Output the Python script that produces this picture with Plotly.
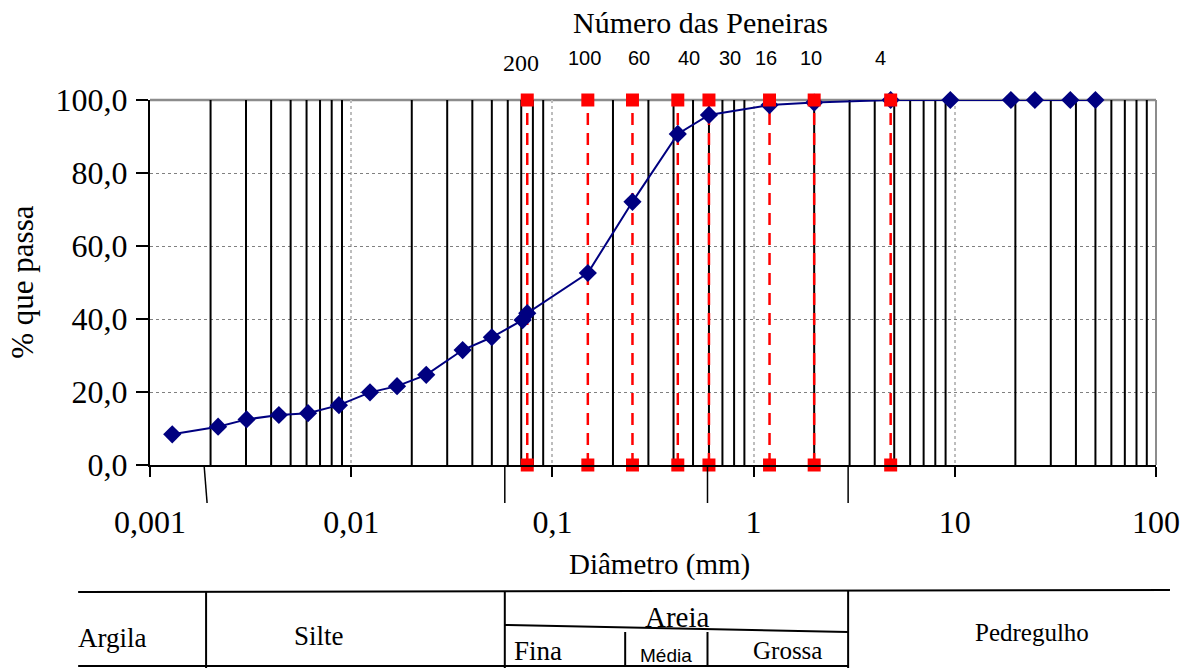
import numpy as np
import plotly.graph_objects as go

# ---------------- data ----------------
diametro = [0.00129, 0.00218, 0.00302, 0.00437, 0.0061, 0.00869, 0.0124, 0.0169,
            0.0236, 0.0358, 0.050, 0.0711, 0.075, 0.15, 0.25, 0.42, 0.6, 1.2,
            2.0, 4.8, 9.5, 19.0, 25.0, 37.5, 50.0]
passa = [8.4, 10.5, 12.5, 13.7, 14.2, 16.4, 19.9, 21.6, 24.7, 31.5, 35.0, 39.7,
         41.6, 52.6, 72.1, 90.7, 95.9, 98.6, 99.3, 100.0, 100.0, 100.0, 100.0,
         100.0, 100.0]

peneiras = ["200", "100", "60", "40", "30", "16", "10", "4"]
aberturas = [0.075, 0.15, 0.25, 0.42, 0.6, 1.2, 2.0, 4.8]
label_shift = [-6, -3, 7, 11, 21, -4, -3, -10]

x_tickvals = [0.001, 0.01, 0.1, 1, 10, 100]
x_ticktext = ["0,001", "0,01", "0,1", "1", "10", "100"]
y_tickvals = [0, 20, 40, 60, 80, 100]
y_ticktext = ["0,0", "20,0", "40,0", "60,0", "80,0", "100,0"]

# classification limits (mm) as drawn
lim_argila_silte = 0.0019
lim_silte_areia = 0.058
lim_fina_media = 0.23
lim_media_grossa = 0.59
lim_areia_pedregulho = 2.95

SERIF = "Liberation Serif, Times New Roman, serif"
SANS = "Liberation Sans, Arial, sans-serif"

# plot area geometry (pixels)
W, H = 1192, 668
L, R, T, B = 150, 34, 100, 203
PW, PH = W - L - R, H - T - B
XMIN, XMAX = -3, 2


def px_x(px):
    return (px - L) / PW


def px_y(py):
    return (H - B - py) / PH


def d_x(d):
    return (np.log10(d) - XMIN) / (XMAX - XMIN)


fig = go.Figure()

# black minor vertical lines (2..9 in each decade)
mx, my = [], []
for e in range(XMIN, XMAX):
    for k in range(2, 10):
        mx += [k * 10.0 ** e, k * 10.0 ** e, None]
        my += [0, 100, None]
fig.add_trace(go.Scatter(x=mx, y=my, mode="lines",
                         line=dict(color="black", width=2),
                         hoverinfo="skip", showlegend=False))

# red dashed sieve lines
rx, ry = [], []
for a in aberturas:
    rx += [a, a, None]
    ry += [0, 100, None]
fig.add_trace(go.Scatter(x=rx, y=ry, mode="lines",
                         line=dict(color="#ff0000", width=2.5, dash="12px,8px"),
                         hoverinfo="skip", showlegend=False))

# granulometric curve
fig.add_trace(go.Scatter(x=diametro, y=passa, mode="lines+markers",
                         line=dict(color="#000080", width=2),
                         marker=dict(symbol="diamond", size=14, color="#000080"),
                         cliponaxis=False, showlegend=False))

# red squares at top and bottom
fig.add_trace(go.Scatter(x=aberturas + aberturas,
                         y=[100] * len(aberturas) + [0] * len(aberturas),
                         mode="markers",
                         marker=dict(symbol="square", size=13, color="#ff0000",
                                     line=dict(width=0)),
                         cliponaxis=False, showlegend=False))

shapes = []
# top and right grey border
shapes.append(dict(type="line", xref="paper", yref="paper", x0=0, x1=1, y0=1, y1=1,
                   line=dict(color="#8c8c8c", width=2.5), layer="below"))
shapes.append(dict(type="line", xref="paper", yref="paper", x0=1, x1=1, y0=0, y1=1,
                   line=dict(color="#8c8c8c", width=2), layer="below"))

# classification ticks below the axis
shapes.append(dict(type="line", xref="paper", yref="paper",
                   x0=d_x(lim_argila_silte) - 0.002, x1=d_x(lim_argila_silte) + 0.001,
                   y0=px_y(465), y1=px_y(503), line=dict(color="black", width=1.5)))
for lim in [lim_silte_areia, lim_media_grossa, lim_areia_pedregulho]:
    shapes.append(dict(type="line", xref="paper", yref="paper",
                       x0=d_x(lim), x1=d_x(lim), y0=px_y(465), y1=px_y(503),
                       line=dict(color="black", width=1.5)))

# classification table
tl = dict(color="black", width=2)
shapes.append(dict(type="line", xref="paper", yref="paper",
                   x0=px_x(78), x1=px_x(1172), y0=px_y(592), y1=px_y(590), line=tl))
shapes.append(dict(type="line", xref="paper", yref="paper",
                   x0=px_x(78), x1=d_x(lim_areia_pedregulho), y0=px_y(666), y1=px_y(666), line=tl))
for lim in [lim_argila_silte, lim_silte_areia, lim_areia_pedregulho]:
    shapes.append(dict(type="line", xref="paper", yref="paper",
                       x0=d_x(lim), x1=d_x(lim), y0=px_y(591), y1=px_y(668), line=tl))
shapes.append(dict(type="line", xref="paper", yref="paper",
                   x0=d_x(lim_silte_areia), x1=d_x(lim_areia_pedregulho),
                   y0=px_y(625), y1=px_y(632), line=tl))
for lim in [lim_fina_media, lim_media_grossa]:
    shapes.append(dict(type="line", xref="paper", yref="paper",
                       x0=d_x(lim), x1=d_x(lim), y0=px_y(632), y1=px_y(667), line=tl))

annotations = []


def txt(text, x, y, size, family=SERIF, **kw):
    annotations.append(dict(text=text, x=x, y=y, xref="paper", yref="paper",
                            showarrow=False, xanchor="center", yanchor="middle",
                            font=dict(family=family, size=size, color="black"), **kw))


# titles
txt("Número das Peneiras", px_x(702), px_y(22), 30)
txt("Diâmetro (mm)", px_x(661), px_y(564), 29)
txt("% que passa", px_x(22), 0.5, 31, textangle=-90)

# sieve numbers
for nome, a, s in zip(peneiras, aberturas, label_shift):
    if nome == "200":
        txt(nome, d_x(a), px_y(63), 24, xshift=s)
    else:
        txt(nome, d_x(a), px_y(58), 20, family=SANS, xshift=s)

# table labels
txt("Argila", px_x(112), px_y(638), 27)
txt("Silte", px_x(319), px_y(636), 27)
txt("Areia", px_x(679), px_y(617), 29)
txt("Fina", px_x(539), px_y(651), 27)
txt("Média", px_x(667), px_y(655), 19, family=SANS)
txt("Grossa", px_x(789), px_y(650), 25)
txt("Pedregulho", px_x(1034), px_y(632), 25)

fig.update_layout(
    width=W, height=H,
    margin=dict(l=L, r=R, t=T, b=B, pad=0),
    paper_bgcolor="white", plot_bgcolor="white",
    showlegend=False,
    shapes=shapes,
    annotations=annotations,
    xaxis=dict(type="log", range=[XMIN, XMAX],
               tickvals=x_tickvals, ticktext=x_ticktext,
               ticks="outside", ticklen=10, tickwidth=2, tickcolor="black",
               showline=True, linecolor="black", linewidth=2,
               showgrid=True, gridcolor="#bdbdbd", griddash="dot", gridwidth=1.5,
               zeroline=False, ticklabelstandoff=18,
               tickfont=dict(family=SERIF, size=32, color="black")),
    yaxis=dict(range=[0, 100],
               tickvals=y_tickvals, ticktext=y_ticktext,
               ticks="outside", ticklen=12, tickwidth=2, tickcolor="black",
               showline=True, linecolor="black", linewidth=2,
               showgrid=True, gridcolor="#808080", griddash="dot", gridwidth=1,
               zeroline=False, ticklabelstandoff=2,
               tickfont=dict(family=SERIF, size=32, color="black")),
)

fig.write_html("out.html")
